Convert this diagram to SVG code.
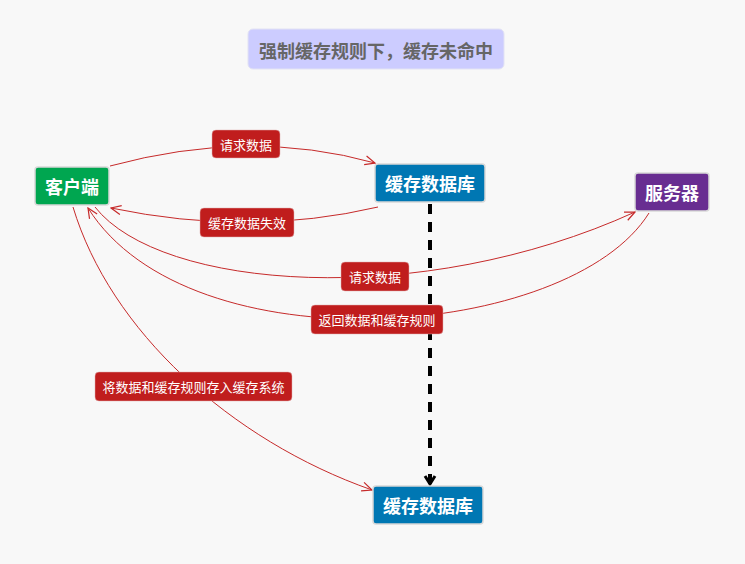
<svg xmlns="http://www.w3.org/2000/svg" width="745" height="564" viewBox="0 0 745 564">
<style>
.bg{fill:#f8f8f8}
.node rect{stroke:#d8d8d8;stroke-width:1.5}
.node text{font-family:"Noto Sans CJK SC","Noto Sans",sans-serif;font-weight:bold;font-size:18px;fill:#ffffff;text-anchor:middle;dominant-baseline:central}
.edge{fill:none;stroke:#c62a2a;stroke-width:1}
.lbl rect{fill:#c01d1d;stroke:#e0b0b0;stroke-width:0.5}
.lbl text{font-family:"Noto Sans CJK SC","Noto Sans",sans-serif;font-size:13px;fill:#ffffff;text-anchor:middle;dominant-baseline:central}
.title rect{fill:#ccccff;stroke:#e2e2f4;stroke-width:1}
.title text{font-family:"Noto Sans CJK SC","Noto Sans",sans-serif;font-weight:bold;font-size:18px;fill:#666666;text-anchor:middle;dominant-baseline:central}
</style>
<defs>
<marker id="arr" viewBox="0 0 12 12" refX="11" refY="6" markerWidth="12" markerHeight="12" markerUnits="userSpaceOnUse" orient="auto">
<path d="M1,1.5 L11,6 L1,10.5" fill="none" stroke="#c62a2a" stroke-width="1.2"/>
</marker>
<marker id="arrb" viewBox="0 0 14 14" refX="11" refY="7" markerWidth="14" markerHeight="14" markerUnits="userSpaceOnUse" orient="auto">
<path d="M3,2 L11,7 L3,12" fill="none" stroke="#000000" stroke-width="3"/>
</marker>
</defs>
<rect class="bg" x="0" y="0" width="745" height="564"/>
<g id="title" class="title">
<rect x="248" y="29" width="256" height="40" rx="5"/>
<text x="376" y="50">强制缓存规则下，缓存未命中</text>
</g>
<g id="connectors">
<path class="edge" d="M110,166 Q250,128 375,163" marker-end="url(#arr)"/>
<path class="edge" d="M378,207 Q250,237 111,208" marker-end="url(#arr)"/>
<path class="edge" d="M95,207 C160,290 420,310 635,212" marker-end="url(#arr)"/>
<path class="edge" d="M649,213 C570,340 190,370 88,208" marker-end="url(#arr)"/>
<path class="edge" d="M73,207 C110,330 230,440 372,490" marker-end="url(#arr)"/>
<path d="M430,204 L430,484" fill="none" stroke="#000000" stroke-width="4" stroke-dasharray="10,8" marker-end="url(#arrb)"/>
</g>
<g id="lbl1" class="lbl"><rect x="212" y="130" width="68" height="28" rx="4"/><text x="246" y="144">请求数据</text></g>
<g id="lbl2" class="lbl"><rect x="200" y="208" width="94" height="29" rx="4"/><text x="247" y="222.5">缓存数据失效</text></g>
<g id="lbl3" class="lbl"><rect x="341" y="262" width="68" height="29" rx="4"/><text x="375" y="276.5">请求数据</text></g>
<g id="lbl4" class="lbl"><rect x="311" y="305" width="132" height="29" rx="4"/><text x="377" y="319.5">返回数据和缓存规则</text></g>
<g id="lbl5" class="lbl"><rect x="95" y="372" width="197" height="29" rx="4"/><text x="193.5" y="386.5">将数据和缓存规则存入缓存系统</text></g>
<g id="client" class="node"><rect x="35" y="167" width="74" height="38" rx="3" fill="#00a650"/><text x="72" y="186">客户端</text></g>
<g id="cache1" class="node"><rect x="375" y="164" width="110" height="38" rx="3" fill="#0077b3"/><text x="430" y="183">缓存数据库</text></g>
<g id="server" class="node"><rect x="635" y="173" width="74" height="38" rx="3" fill="#682d91"/><text x="672" y="192">服务器</text></g>
<g id="cache2" class="node"><rect x="373" y="486" width="110" height="38" rx="3" fill="#0077b3"/><text x="428" y="505">缓存数据库</text></g>
</svg>
